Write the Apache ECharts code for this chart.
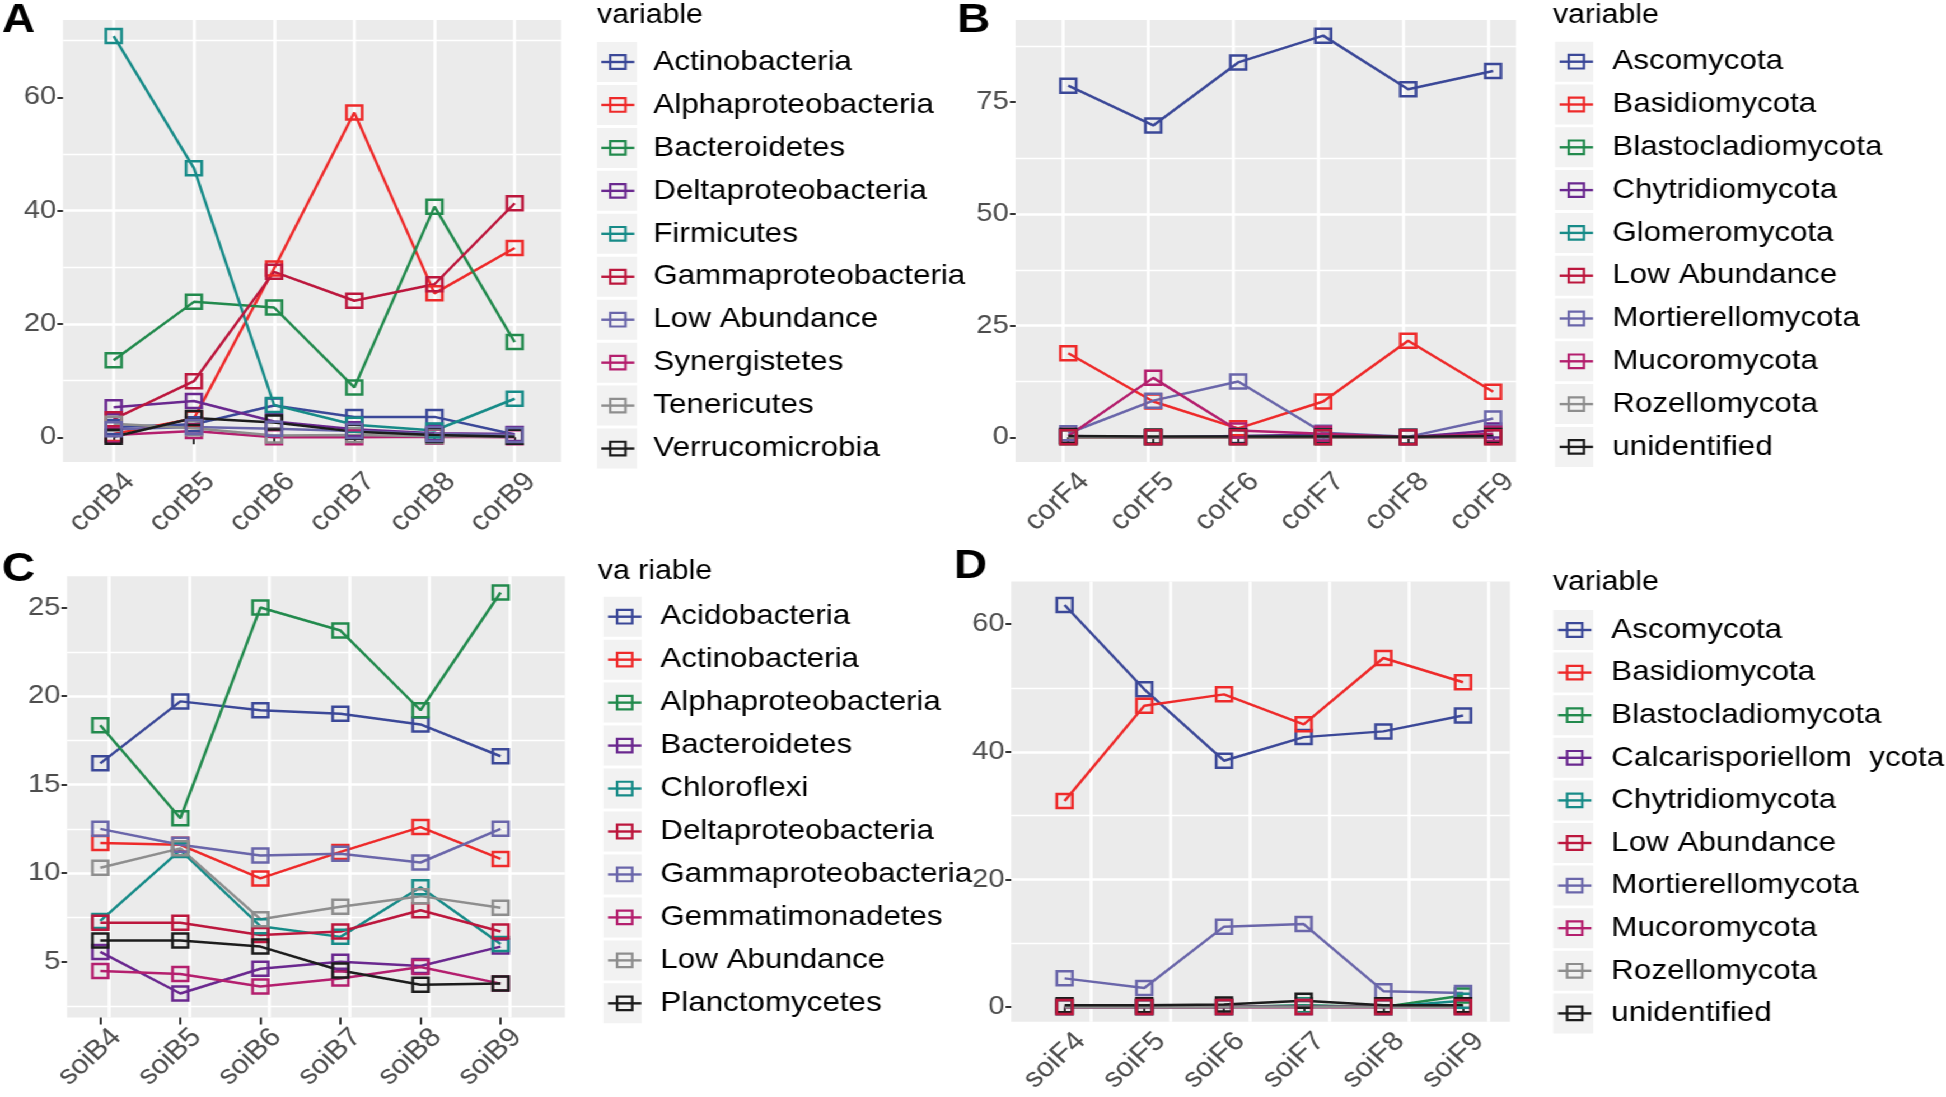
<!DOCTYPE html>
<html>
<head>
<meta charset="utf-8">
<script src="https://cdn.jsdelivr.net/npm/echarts@6/dist/echarts.min.js"></script>
<style>
html,body{margin:0;padding:0;background:#fff;overflow:hidden;width:1946px;height:1097px;}
#wrap{position:absolute;left:0;top:0;width:1738px;height:1097px;transform:scaleX(1.119678);transform-origin:0 0;}
.pane{position:absolute;left:0;top:0;width:1738px;height:1097px;}
</style>
</head>
<body>
<div id="wrap">
  <div class="pane" id="pA"></div>
  <div class="pane" id="pB"></div>
  <div class="pane" id="pC"></div>
  <div class="pane" id="pD"></div>
</div>
<script>
// ---------------- DATA ----------------
const catsA = ['corB4','corB5','corB6','corB7','corB8','corB9'];
const namesA = ['Actinobacteria','Alphaproteobacteria','Bacteroidetes','Deltaproteobacteria','Firmicutes',
                'Gammaproteobacteria','Low Abundance','Synergistetes','Tenericutes','Verrucomicrobia'];
const valsA = [
  [1.8, 2.3, 5.6, 3.6, 3.6, 0.5],
  [0.6, 3.3, 29.8, 57.3, 25.4, 33.4],
  [13.6, 23.9, 22.9, 8.8, 40.7, 16.8],
  [5.3, 6.4, 2.8, 1.4, 0.7, 0.6],
  [70.8, 47.5, 5.7, 2.2, 1.2, 6.8],
  [3.2, 9.9, 29.2, 24.1, 27.0, 41.3],
  [1.4, 1.8, 1.5, 1.1, 0.6, 0.4],
  [0.4, 1.1, 0.0, 0.0, 0.1, 0.0],
  [2.4, 1.6, 0.3, 0.4, 0.2, 0.1],
  [0.1, 3.4, 2.6, 1.0, 0.4, 0.1]
];
const ticksA = [0, 20, 40, 60];

const catsB = ['corF4','corF5','corF6','corF7','corF8','corF9'];
const namesB = ['Ascomycota','Basidiomycota','Blastocladiomycota','Chytridiomycota','Glomeromycota',
                'Low Abundance','Mortierellomycota','Mucoromycota','Rozellomycota','unidentified'];
const valsB = [
  [78.7, 69.8, 83.9, 89.9, 77.9, 82.0],
  [18.8, 8.0, 2.0, 8.0, 21.6, 10.2],
  [0.0, 0.0, 0.0, 0.0, 0.0, 0.3],
  [0.3, 0.0, 0.3, 0.6, 0.0, 1.5],
  [0.2, 0.0, 0.1, 0.3, 0.0, 0.3],
  [0.0, 0.0, 0.0, 0.0, 0.0, 0.0],
  [0.9, 8.2, 12.5, 1.0, 0.1, 4.2],
  [0.3, 13.3, 1.5, 0.8, 0.0, 0.8],
  [0.0, 0.0, 0.0, 0.0, 0.0, 0.0],
  [0.3, 0.2, 0.2, 0.2, 0.1, 0.3]
];
const ticksB = [0, 25, 50, 75];

const catsC = ['soiB4','soiB5','soiB6','soiB7','soiB8','soiB9'];
const namesC = ['Acidobacteria','Actinobacteria','Alphaproteobacteria','Bacteroidetes','Chloroflexi',
                'Deltaproteobacteria','Gammaproteobacteria','Gemmatimonadetes','Low Abundance','Planctomycetes'];
const valsC = [
  [16.2, 19.7, 19.2, 19.0, 18.4, 16.6],
  [11.7, 11.6, 9.7, 11.2, 12.6, 10.8],
  [18.35, 13.1, 25.0, 23.7, 19.2, 25.85],
  [5.55, 3.2, 4.6, 5.0, 4.75, 5.85],
  [7.3, 11.3, 7.0, 6.4, 9.2, 6.0],
  [7.2, 7.2, 6.5, 6.7, 7.9, 6.7],
  [12.5, 11.6, 11.0, 11.1, 10.6, 12.5],
  [4.47, 4.3, 3.6, 4.05, 4.7, 3.76],
  [10.3, 11.4, 7.4, 8.1, 8.7, 8.05],
  [6.2, 6.2, 5.85, 4.5, 3.7, 3.76]
];
const ticksC = [5, 10, 15, 20, 25];

const catsD = ['soiF4','soiF5','soiF6','soiF7','soiF8','soiF9'];
const namesD = ['Ascomycota','Basidiomycota','Blastocladiomycota','Calcarisporiellom  ycota','Chytridiomycota',
                'Low Abundance','Mortierellomycota','Mucoromycota','Rozellomycota','unidentified'];
const valsD = [
  [63.0, 49.8, 38.6, 42.3, 43.2, 45.7],
  [32.3, 47.2, 49.0, 44.3, 54.7, 50.9],
  [0.0, 0.0, 0.0, 0.3, 0.0, 1.8],
  [0.0, 0.0, 0.0, 0.0, 0.0, 0.0],
  [0.0, 0.0, 0.0, 0.2, 0.0, 1.0],
  [0.0, 0.0, 0.0, 0.0, 0.0, 0.0],
  [4.5, 3.0, 12.6, 13.0, 2.5, 2.2],
  [0.0, 0.0, 0.0, 0.0, 0.0, 0.0],
  [0.0, 0.0, 0.0, 0.0, 0.0, 0.0],
  [0.3, 0.3, 0.4, 1.0, 0.3, 0.3]
];
const ticksD = [0, 20, 40, 60];

// ---------------- STYLE / LAYOUT ----------------
const palette = ['#3B4898','#EE2A2A','#228A4D','#6A288F','#178B88','#BC173D','#6A66AA','#B41F6E','#8E8E8E','#1C1C1C'];
const FONT = '"Liberation Sans", Arial, Helvetica, sans-serif';
const S = 1946 / 1738;
const X = v => v / S;

const panels = [
  {id:'pA', letter:'A', title:'variable', cats:catsA, names:namesA, vals:valsA, ticks:ticksA, step:20,
   plotL:63, plotR:561, plotT:20, plotB:462, cat0:113.7, cat5:514.7, vOff:0, yMin:-4.36, yMax:73.64,
   letterX:2, letterY:21, titleX:597, titleY:16,
   keyL:597, keyR:637, iconL:600, iconR:633, textX:652, item0:62, pitch:42.95},
  {id:'pB', letter:'B', title:'variable', cats:catsB, names:namesB, vals:valsB, ticks:ticksB, step:25,
   plotL:1015.5, plotR:1516, plotT:20, plotB:462, cat0:1068.3, cat5:1493.1, vOff:-5, yMin:-5.53, yMax:93.4,
   letterX:957, letterY:21, titleX:1553, titleY:16,
   keyL:1555, keyR:1593.3, iconL:1558.3, iconR:1591.7, textX:1611, item0:61.7, pitch:42.8},
  {id:'pC', letter:'C', title:'va riable', cats:catsC, names:namesC, vals:valsC, ticks:ticksC, step:5,
   plotL:67, plotR:565, plotT:576.2, plotB:1017.6, cat0:100.3, cat5:500.6, vOff:8.8, yMin:1.84, yMax:26.77,
   letterX:2, letterY:570, titleX:598, titleY:571.7,
   keyL:603.3, keyR:641.7, iconL:606.7, iconR:640, textX:659, item0:616.7, pitch:42.96},
  {id:'pD', letter:'D', title:'variable', cats:catsD, names:namesD, vals:valsD, ticks:ticksD, step:20,
   plotL:1011.2, plotR:1510, plotT:581.4, plotB:1021.7, cat0:1064.6, cat5:1463.1, vOff:25.7, yMin:-2.29, yMax:66.7,
   letterX:954, letterY:567, titleX:1553, titleY:583,
   keyL:1553.3, keyR:1593.3, iconL:1556.7, iconR:1590, textX:1610, item0:630, pitch:42.6}
];

function buildOption(p) {
  const top = p.plotT, h = p.plotB - p.plotT;
  const dataW = X(p.cat5) - X(p.cat0);
  const yBase = {type:'value', min:p.yMin, max:p.yMax, minInterval:p.step, maxInterval:p.step, splitNumber:5};
  const LH = 43, IH = 17;
  const itemWidth = X(p.iconR) - X(p.iconL);
  const textPad = X(p.textX) - X(p.iconL) - itemWidth - 5;

  const lineSeries = p.names.map((n, i) => ({
    type:'line', name:n, xAxisIndex:2, yAxisIndex:2, data:p.vals[i],
    symbol:'rect', showSymbol:false, clip:false, z:2,
    lineStyle:{color:palette[i], width:2.5},
    itemStyle:{color:'rgba(0,0,0,0)', borderColor:palette[i], borderWidth:2.5},
    emphasis:{disabled:true}, silent:true
  }));
  const pointSeries = p.names.map((n, i) => ({
    type:'scatter', name:n, xAxisIndex:2, yAxisIndex:2, data:p.vals[i],
    symbol:'rect', symbolSize:14, clip:false, z:(n === 'Low Abundance' ? 4 : 3),
    itemStyle:{color:'rgba(0,0,0,0)', borderColor:palette[i], borderWidth:2.5, opacity:1},
    emphasis:{disabled:true}, silent:true
  }));

  const graphics = [];
  p.names.forEach((n, i) => {
    graphics.push({type:'rect', silent:true, z:-1,
      shape:{x:X(p.keyL), y:p.item0 + i * p.pitch - 20, width:X(p.keyR) - X(p.keyL), height:40},
      style:{fill:'#f2f2f2'}});
  });
  graphics.push({type:'text', silent:true, x:X(p.letterX), y:p.letterY,
    style:{text:p.letter, fontSize:41, fontWeight:'bold', fontFamily:FONT, fill:'#000', verticalAlign:'middle', align:'left'}});
  graphics.push({type:'text', silent:true, x:X(p.titleX), y:p.titleY,
    style:{text:p.title, fontSize:27, fontFamily:FONT, fill:'#000', verticalAlign:'middle', align:'left'}});

  return {
    animation:false,
    backgroundColor:'transparent',
    grid:[
      {left:X(p.plotL), top:top, width:X(p.plotR) - X(p.plotL), height:h, show:true, backgroundColor:'#ebebeb', borderWidth:0, containLabel:false, outerBoundsMode:'none'},
      {left:X(p.cat0 + p.vOff), top:top, width:dataW, height:h, show:false, containLabel:false, outerBoundsMode:'none'},
      {left:X(p.cat0), top:top, width:dataW, height:h, show:false, containLabel:false, outerBoundsMode:'none'}
    ],
    xAxis:[
      {gridIndex:0, type:'value', min:0, max:1, show:false},
      {gridIndex:1, type:'category', data:p.cats, boundaryGap:false,
       axisLine:{show:false}, axisTick:{show:false, interval:0}, axisLabel:{show:false, interval:0},
       splitLine:{show:true, interval:0, lineStyle:{color:'#ffffff', width:2.6}}},
      {gridIndex:2, type:'category', data:p.cats, boundaryGap:false,
       axisLine:{show:false},
       axisTick:{show:true, interval:0, length:7, lineStyle:{color:'#333333', width:2}},
       axisLabel:{show:true, interval:0, rotate:45, margin:8, fontSize:27, color:'#4d4d4d', fontFamily:FONT,
                  align:'right', verticalAlign:'top', padding:[2, -5, 0, 0]},
       splitLine:{show:false}}
    ],
    yAxis:[
      Object.assign({gridIndex:0}, yBase, {
        axisLine:{show:false},
        axisTick:{show:true, length:5, lineStyle:{color:'#333333', width:2}, customValues:p.ticks},
        axisLabel:{show:true, customValues:p.ticks, margin:6, fontSize:26, color:'#4d4d4d', fontFamily:FONT},
        splitLine:{show:true, showMinLine:false, showMaxLine:false, lineStyle:{color:'#ffffff', width:2.6}},
        minorTick:{show:false, splitNumber:2},
        minorSplitLine:{show:true, lineStyle:{color:'#ffffff', width:1.4}}
      }),
      Object.assign({gridIndex:1, show:false, splitLine:{show:false}}, yBase),
      Object.assign({gridIndex:2, show:false, splitLine:{show:false}}, yBase)
    ],
    legend:{
      show:true, orient:'vertical', left:X(p.iconL), top:p.item0 - LH / 2,
      padding:0, itemGap:p.pitch - LH, itemWidth:itemWidth, itemHeight:IH, selectedMode:false,
      textStyle:{fontSize:28, fontFamily:FONT, color:'#000', lineHeight:LH, padding:[0, 0, 0, textPad]},
      data:p.names.map((n, i) => ({
        name:n,
        itemStyle:{color:'rgba(0,0,0,0)', borderColor:palette[i], borderWidth:2.2},
        lineStyle:{color:palette[i], width:2.4}
      }))
    },
    graphic:graphics,
    series:lineSeries.concat(pointSeries)
  };
}

panels.forEach(p => {
  const chart = echarts.init(document.getElementById(p.id), null, {renderer:'canvas', width:1738, height:1097});
  chart.setOption(buildOption(p));
});
</script>
</body>
</html>
